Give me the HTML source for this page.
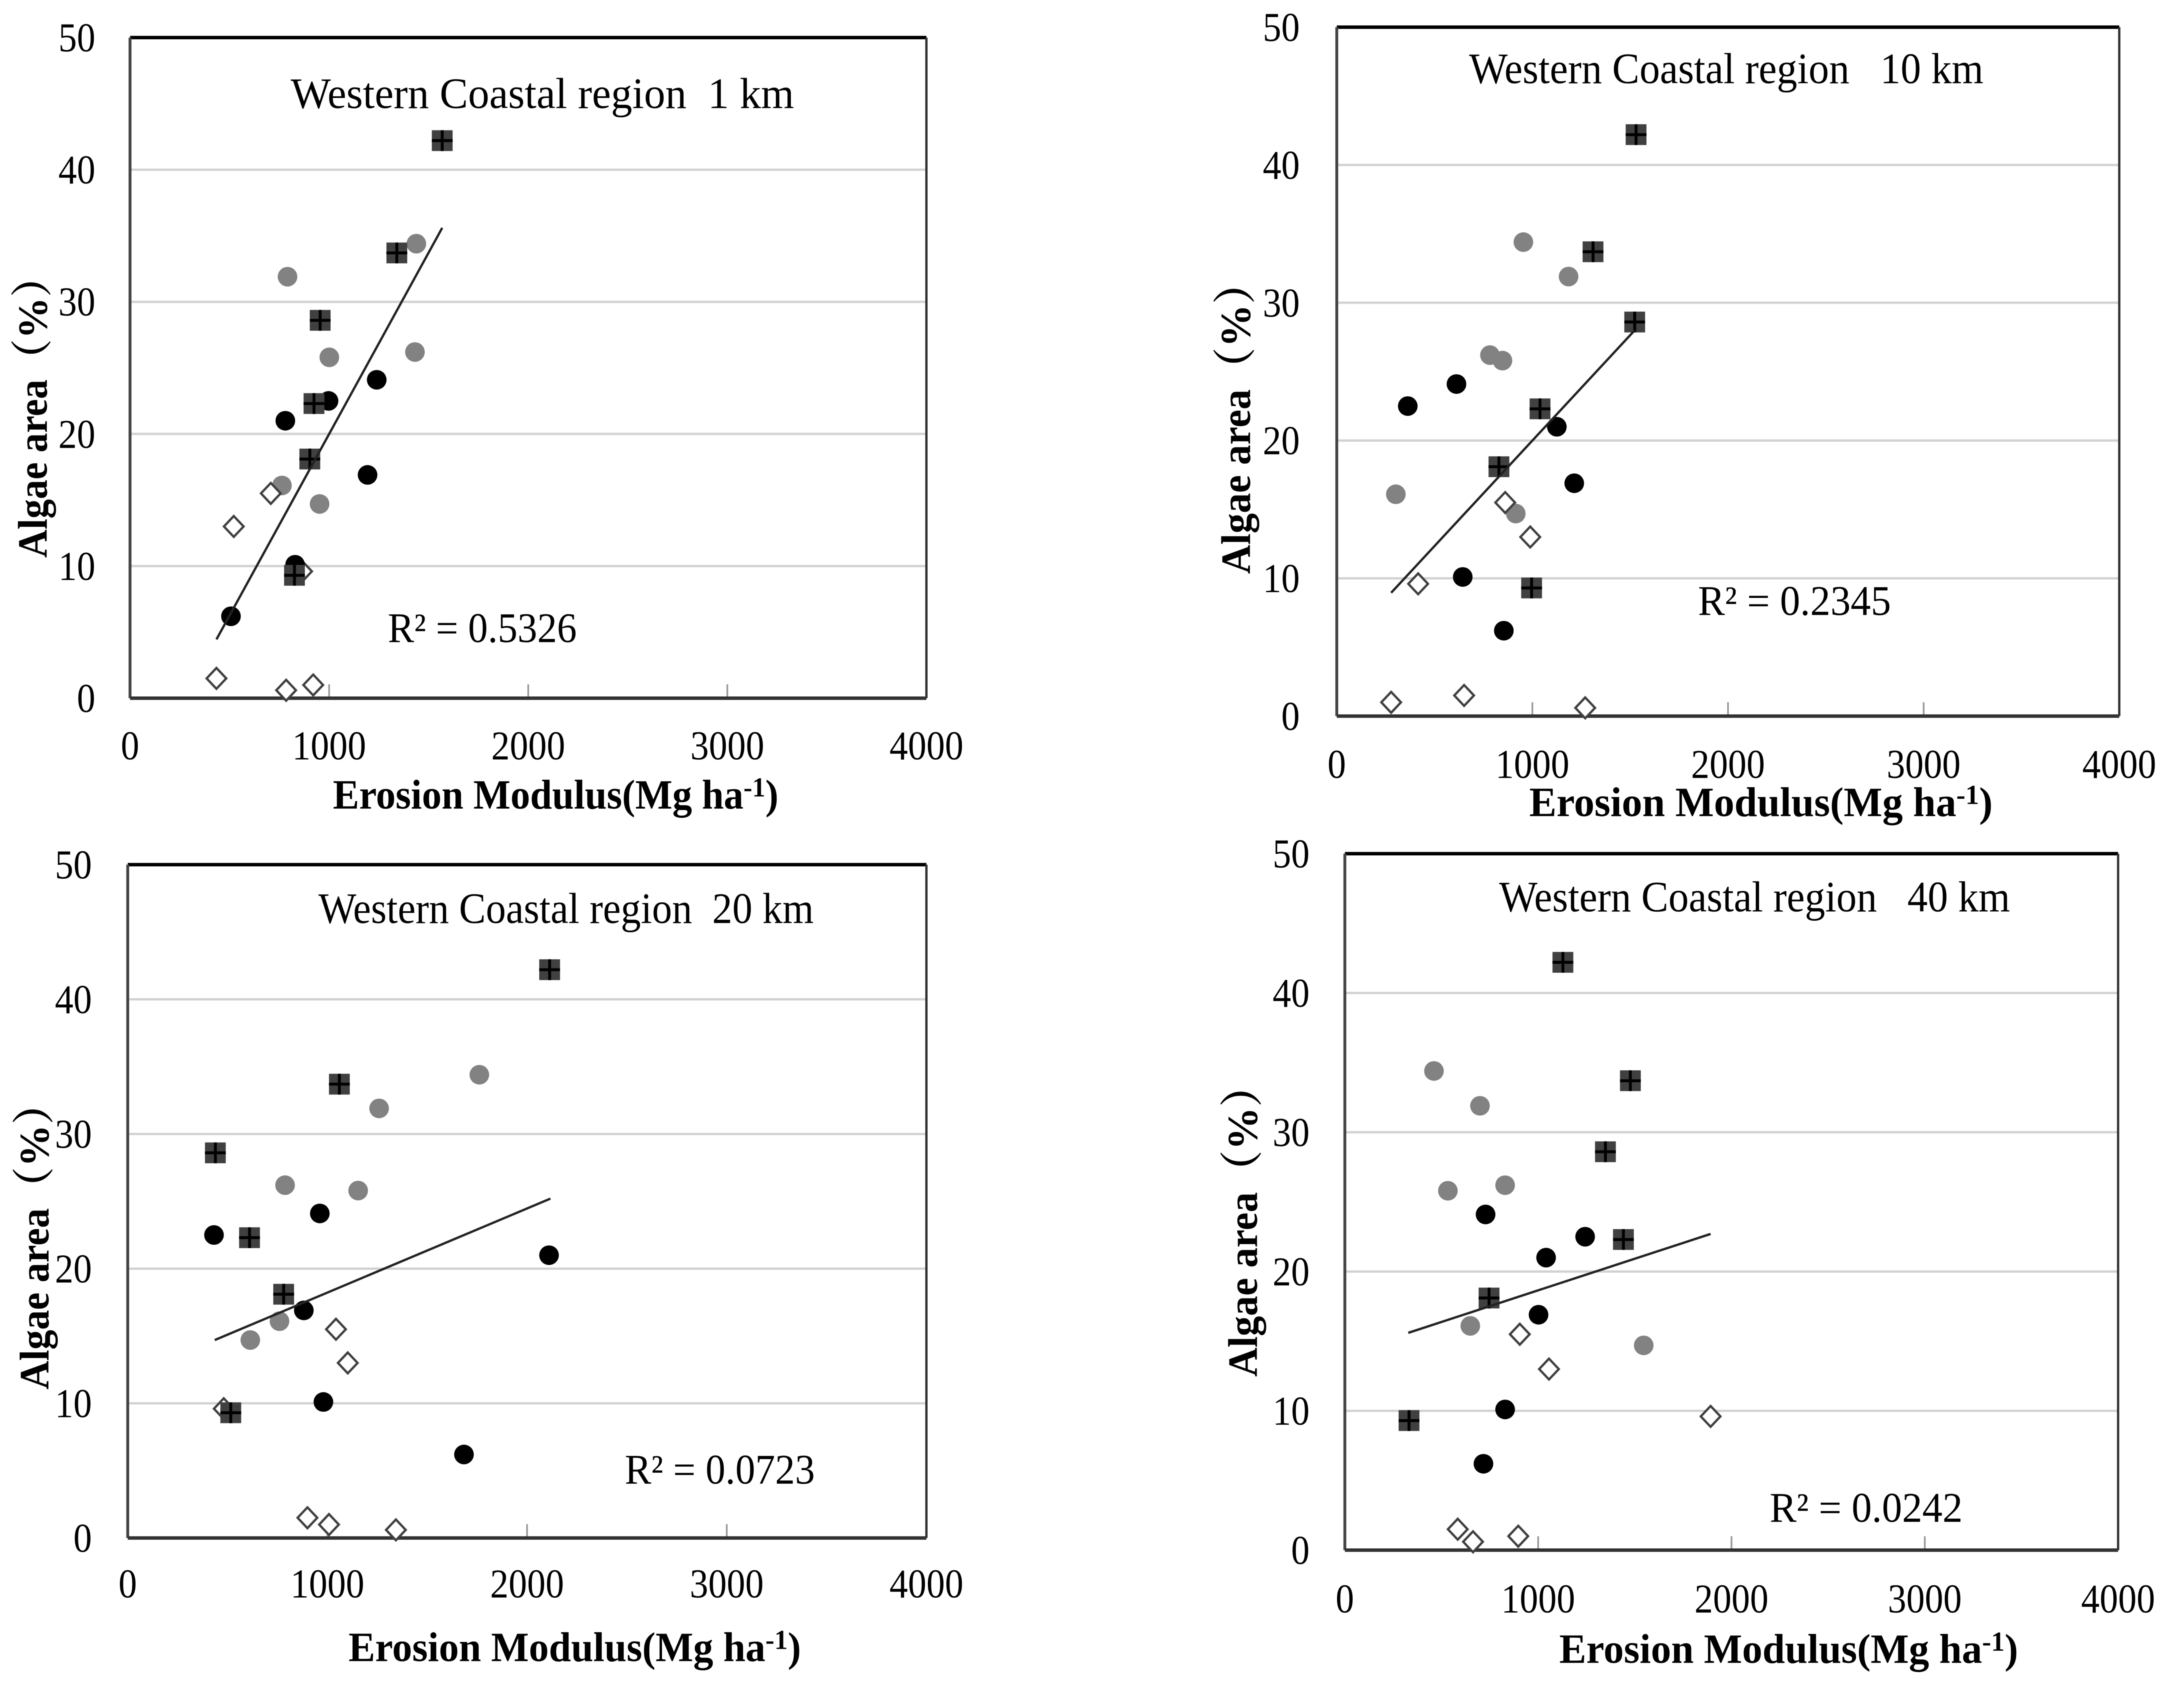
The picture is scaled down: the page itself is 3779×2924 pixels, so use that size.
<!DOCTYPE html>
<html>
<head>
<meta charset="utf-8">
<title>Algae area vs erosion modulus, Western Coastal region</title>
<style>
html,body{margin:0;padding:0;background:#fff;}
svg{display:block;filter:blur(0.9px);}
text{font-family:"Liberation Serif","Noto Serif CJK SC",serif;fill:#000;white-space:pre;}
</style>
</head>
<body>
<svg id="chart" xmlns="http://www.w3.org/2000/svg" width="3779" height="2924" viewBox="0 0 3779 2924"></svg>
<script>
// ---- Shared data: algae area (%) per site group ----
const blackY   = [6.2, 10.1, 16.9, 21.0, 22.5, 24.1];
const grayY    = [14.7, 16.1, 25.8, 26.2, 31.9, 34.4];
const squareY  = [9.3, 18.1, 22.3, 28.6, 33.7, 42.2];
const diamondY = [0.6, 1.0, 1.5, 9.6, 13.0, 15.5];

const xTicks = [0, 1000, 2000, 3000, 4000];
const yTicks = [0, 10, 20, 30, 40, 50];

// ---- 1 km erosion modulus values ----
const black1km   = [507, 829, 1193, 780, 997, 1239];
const gray1km    = [952, 763, 1001, 1431, 791, 1438];
const square1km  = [826, 903, 924, 955, 1340, 1568];
const diamond1km = [784, 920, 434, 864, 521, 707];
const trend1kmX  = [434, 1568];
const trend1kmY  = [4.45, 35.6];

// ---- 10 km ----
const black10km   = [854, 644, 1214, 1125, 363, 612];
const gray10km    = [915, 302, 847, 783, 1185, 954];
const square10km  = [996, 829, 1039, 1523, 1310, 1530];
const diamond10km = [1270, 278, 651, 416, 989, 861];
const trend10kmX  = [278, 1523];
const trend10kmY  = [8.95, 28.0];

// ---- 20 km ----
const black20km   = [1684, 980, 882, 2110, 432, 962];
const gray20km    = [614, 760, 1154, 788, 1259, 1761];
const square20km  = [516, 781, 610, 439, 1060, 2113];
const diamond20km = [1343, 1008, 900, 481, 1102, 1043];
const trend20kmX  = [436, 2117];
const trend20kmY  = [14.7, 25.2];

// ---- 40 km ----
const black40km   = [717, 829, 1002, 1041, 1243, 728];
const gray40km    = [1546, 649, 533, 829, 699, 461];
const square40km  = [332, 746, 1441, 1348, 1477, 1128];
const diamond40km = [663, 897, 584, 1892, 1056, 905];
const trend40kmX  = [328, 1892];
const trend40kmY  = [15.6, 22.7];

const panels = [
  {id:'1km', title:'Western Coastal region  1 km', r2:'R\u00B2 = 0.5326',
   black:black1km, gray:gray1km, square:square1km, diamond:diamond1km, tx:trend1kmX, ty:trend1kmY,
   box:{l:225,r:1603,t:65,b:1208}, yLabR:165, xLabBase:1314,
   titleBox:[503,1374,187], r2Box:[671,998,1111], xTitle:[576,1347,1399], yTitle:[81,483,965]},
  {id:'10km', title:'Western Coastal region   10 km', r2:'R\u00B2 = 0.2345',
   black:black10km, gray:gray10km, square:square10km, diamond:diamond10km, tx:trend10kmX, ty:trend10kmY,
   box:{l:2313,r:3667,t:47,b:1239}, yLabR:2249, xLabBase:1346,
   titleBox:[2542,3432,144], r2Box:[2938,3272,1064], xTitle:[2646,3448,1412], yTitle:[2163,494,993]},
  {id:'20km', title:'Western Coastal region  20 km', r2:'R\u00B2 = 0.0723',
   black:black20km, gray:gray20km, square:square20km, diamond:diamond20km, tx:trend20kmX, ty:trend20kmY,
   box:{l:221,r:1603,t:1496,b:2661}, yLabR:159, xLabBase:2764,
   titleBox:[551,1408,1597], r2Box:[1081,1410,2567], xTitle:[603,1386,2874], yTitle:[84,1914,2404]},
  {id:'40km', title:'Western Coastal region   40 km', r2:'R\u00B2 = 0.0242',
   black:black40km, gray:gray40km, square:square40km, diamond:diamond40km, tx:trend40kmX, ty:trend40kmY,
   box:{l:2327,r:3665,t:1477,b:2682}, yLabR:2266, xLabBase:2790,
   titleBox:[2594,3478,1577], r2Box:[3062,3396,2633], xTitle:[2698,3492,2877], yTitle:[2175,1883,2382]}
];

const NS = 'http://www.w3.org/2000/svg';
const root = document.getElementById('chart');

function make(tag, parent, attrs){
  const n = document.createElementNS(NS, tag);
  for (const k in attrs) n.setAttribute(k, attrs[k]);
  parent.appendChild(n);
  return n;
}

function drawPanel(p){
  const g = make('g', root, {});
  
  
  const b = p.box;
  const sx = v => b.l + (v / 4000) * (b.r - b.l);
  const sy = v => b.b - (v / 50) * (b.b - b.t);

  // gridlines
  yTicks.forEach(v => {
    if (v === 0 || v === 50) return;
    const line = make('line', g, {x1:b.l, x2:b.r, y1:sy(v), y2:sy(v), stroke:'#d2d2d2', 'stroke-width':4});
    
    
  });

  // x ticks
  xTicks.forEach(v => {
    if (v === 0 || v === 4000) return;
    const t = make('line', g, {x1:sx(v), x2:sx(v), y1:b.b - 24, y2:b.b, stroke:'#9a9a9a', 'stroke-width':3});
    
    
  });

  // frame
  const top = make('line', g, {x1:b.l, x2:b.r, y1:b.t, y2:b.t, stroke:'#000', 'stroke-width':6});
  
  
  const right = make('line', g, {x1:b.r, x2:b.r, y1:b.t, y2:b.b, stroke:'#333', 'stroke-width':4});
  
  
  const left = make('line', g, {x1:b.l, x2:b.l, y1:b.t, y2:b.b, stroke:'#444', 'stroke-width':5});
  
  
  const bottom = make('line', g, {x1:b.l, x2:b.r, y1:b.b, y2:b.b, stroke:'#333', 'stroke-width':6});
  
  

  // tick labels
  xTicks.forEach(v => {
    const s = String(v);
    const t = make('text', g, {x:sx(v), y:p.xLabBase, 'text-anchor':'middle', 'font-size':71, textLength:s.length * 32, lengthAdjust:'spacingAndGlyphs'});
    t.textContent = s;
    
    
  });
  yTicks.forEach(v => {
    const s = String(v);
    const t = make('text', g, {x:p.yLabR, y:sy(v) + 24, 'text-anchor':'end', 'font-size':71, textLength:s.length * 32, lengthAdjust:'spacingAndGlyphs'});
    t.textContent = s;
    
    
  });

  // gray circles
  p.gray.forEach((x, i) => {
    const c = make('circle', g, {cx:sx(x), cy:sy(grayY[i]), r:17, fill:'#828282'});
    
    
  });

  // open diamonds
  p.diamond.forEach((x, i) => {
    const cx = sx(x), cy = sy(diamondY[i]), w = 17, h = 18;
    const d = make('polygon', g, {points:[cx,cy-h,cx+w,cy,cx,cy+h,cx-w,cy].join(' '), fill:'#fff', stroke:'#404040', 'stroke-width':4});
    
    
  });

  // black circles
  p.black.forEach((x, i) => {
    const c = make('circle', g, {cx:sx(x), cy:sy(blackY[i]), r:17, fill:'#000'});
    
    
  });

  // squares with cross
  p.square.forEach((x, i) => {
    const cx = sx(x), cy = sy(squareY[i]), s = 18;
    const m = make('g', g, {});
    
    
    make('rect', m, {x:cx - s, y:cy - s, width:2 * s, height:2 * s, fill:'#404040'});
    make('line', m, {x1:cx, x2:cx, y1:cy - s, y2:cy + s, stroke:'#000', 'stroke-width':5});
    make('line', m, {x1:cx - s, x2:cx + s, y1:cy, y2:cy, stroke:'#000', 'stroke-width':5});
  });

  // trend line
  const tr = make('line', g, {x1:sx(p.tx[0]), y1:sy(p.ty[0]), x2:sx(p.tx[1]), y2:sy(p.ty[1]), stroke:'#222', 'stroke-width':4});
  
  

  // title
  const title = make('text', g, {x:p.titleBox[0], y:p.titleBox[2], 'font-size':75, textLength:p.titleBox[1] - p.titleBox[0], lengthAdjust:'spacingAndGlyphs'});
  title.textContent = p.title;
  
  

  // R squared
  const r2 = make('text', g, {x:p.r2Box[0], y:p.r2Box[2], 'font-size':73, textLength:p.r2Box[1] - p.r2Box[0], lengthAdjust:'spacingAndGlyphs'});
  r2.textContent = p.r2;
  
  

  // x axis title
  const xt = make('text', g, {x:p.xTitle[0], y:p.xTitle[2], 'font-size':72, 'font-weight':'bold', textLength:p.xTitle[1] - p.xTitle[0], lengthAdjust:'spacingAndGlyphs'});
  
  
  xt.appendChild(document.createTextNode('Erosion Modulus(Mg ha'));
  const sup = make('tspan', xt, {'font-size':48, dy:-21});
  sup.textContent = '-1';
  const close = make('tspan', xt, {'font-size':72, dy:21});
  close.textContent = ')';

  // y axis title (word part and percent part)
  const total = p.yTitle[2] - p.yTitle[1];
  const yt = make('text', g, {transform:'translate(' + p.yTitle[0] + ',' + p.yTitle[2] + ') rotate(-90)', x:0, y:0, 'font-size':72, 'font-weight':'bold', textLength:total * 0.64, lengthAdjust:'spacingAndGlyphs'});
  yt.textContent = 'Algae area';
  
  
  const pctSize = 72 * total / 482;
  const pctStart = p.yTitle[1] + total * 0.274 + pctSize * 0.6;
  const yu = make('text', g, {transform:'translate(' + p.yTitle[0] + ',' + pctStart + ') rotate(-90)', x:0, y:0, 'font-size':pctSize, 'font-weight':'bold'});
  yu.textContent = '\uFF08%\uFF09';
  
  
}

panels.forEach(drawPanel);
</script>
</body>
</html>
